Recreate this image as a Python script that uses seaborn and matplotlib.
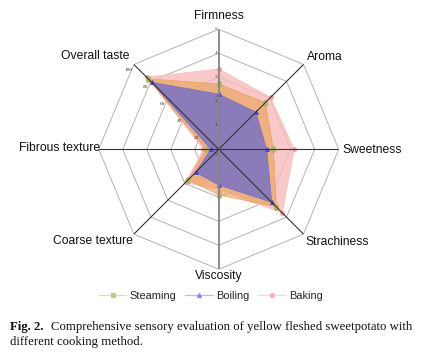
#!/usr/bin/env python3
"""Radar chart: sensory evaluation of yellow fleshed sweetpotato by cooking method."""

import matplotlib.lines as mlines
import matplotlib.pyplot as plt
import numpy as np
import seaborn as sns

CATEGORIES = ["Firmness", "Aroma", "Sweetness", "Strachiness", "Viscosity",
              "Coarse texture", "Fibrous texture", "Overall taste"]

# first seven attributes on a 0-5 scale, overall taste on a 0-100 scale
STEAMING = [2.72, 2.75, 2.28, 3.4, 1.9, 1.8, 0.53, 83]
BOILING = [2.3, 2.19, 2.0, 3.13, 1.49, 1.36, 0.33, 79]
BAKING = [3.35, 3.06, 3.15, 3.75, 1.72, 1.95, 0.64, 85]

SCORE_TICKS = [0, 1, 2, 3, 4, 5]
TASTE_TICKS = [20, 40, 60, 80, 100]
TASTE_SCALE = 20.0  # 100 on overall taste == 5 on the other axes

SERIES = [
    # label, values, fill colour, alpha, marker colour, marker, legend line, legend marker
    ("Baking", BAKING, "#f8bcbc", 0.8, "#f49a9a", "o", "#fad3d3", "#f6b3b3"),
    ("Steaming", STEAMING, "#e8a050", 0.6, "#b8b46a", "s", "#dcdeb8", "#c5c88e"),
    ("Boiling", BOILING, "#736ec8", 0.8, "#4b48d0", "^", "#bdbbec", "#8c8ae0"),
]
LEGEND_ORDER = ["Steaming", "Boiling", "Baking"]


def scaled(values):
    out = list(values[:-1]) + [values[-1] / TASTE_SCALE]
    return out + out[:1]


def main() -> None:
    sns.set_theme(style="white")
    plt.rcParams["font.family"] = ["Liberation Sans", "DejaVu Sans"]

    n = len(CATEGORIES)
    theta = np.linspace(0, 2 * np.pi, n, endpoint=False)
    theta_c = np.append(theta, theta[0])

    fig = plt.figure(figsize=(4.41, 3.57), dpi=100)
    fig.patch.set_facecolor("white")
    ax = fig.add_axes([0.2238, 0.2457, 0.5442, 0.6723], projection="polar")
    ax.set_theta_offset(np.pi / 2)
    ax.set_theta_direction(-1)
    ax.set_ylim(0, 5)
    ax.set_xticks([])
    ax.set_yticks([])
    ax.grid(False)
    ax.spines["polar"].set_visible(False)
    ax.set_facecolor("none")

    # octagonal grid
    for r in SCORE_TICKS[1:]:
        ax.plot(theta_c, [r] * (n + 1), color="#a8a8a8", lw=0.6, zorder=1)

    # data
    for label, vals, fill, alpha, mcol, marker, _lc, _lm in SERIES:
        r = scaled(vals)
        ax.fill(theta_c, r, color=fill, alpha=alpha, lw=0, zorder=2)
        sns.lineplot(x=theta_c, y=r, sort=False, estimator=None, ax=ax,
                     color=fill, lw=0.5, marker=marker, markersize=2.8,
                     markerfacecolor=mcol, markeredgecolor=mcol, alpha=0.9,
                     zorder=3, legend=False)

    # spokes
    for i, a in enumerate(theta):
        if i % 4 == 0:
            ax.plot([a, a], [0, 5], color="#858585", lw=1.3, zorder=4)
        else:
            ax.plot([a, a], [0, 5], color="#333333", lw=0.8, zorder=4)

    # axis tick labels
    for t in SCORE_TICKS:
        ax.annotate(str(t), xy=(0, t), xytext=(-0.8, -3.5 if t == 0 else 0),
                    textcoords="offset points", ha="right", va="center",
                    fontsize=3.8, family="Liberation Serif", color="#333333",
                    zorder=5)
    for t in TASTE_TICKS:
        ax.annotate(str(t), xy=(theta[-1], t / TASTE_SCALE), xytext=(-3.8, -4.3),
                    textcoords="offset points", ha="center", va="center",
                    fontsize=3.8, family="Liberation Serif", color="#333333",
                    zorder=5)

    # category labels
    label_pos = [
        ((0, 9.5), "center", "center"),
        ((2.2, 5.0), "left", "center"),
        ((2.4, -0.6), "left", "center"),
        ((1.5, -5.5), "left", "center"),
        ((0, -4.5), "center", "center"),
        ((-0.7, -5.0), "right", "center"),
        ((1.0, 0.6), "right", "center"),
        ((-2.9, 5.8), "right", "center"),
    ]
    for a, cat, (off, ha, va) in zip(theta, CATEGORIES, label_pos):
        ax.annotate(cat, xy=(a, 5), xytext=off, textcoords="offset points",
                    ha=ha, va=va, fontsize=8.7, color="#111111",
                    annotation_clip=False)

    # legend
    lookup = {s[0]: s for s in SERIES}
    handles = []
    for name in LEGEND_ORDER:
        _l, _v, _f, _a, _mc, marker, lc, lm = lookup[name]
        handles.append(mlines.Line2D([], [], color=lc, lw=0.9, marker=marker,
                                     markersize=2.8, markerfacecolor=lm,
                                     markeredgecolor=lm, label=name))
    fig.legend(handles=handles, loc="center", bbox_to_anchor=(0.478, 0.171),
               ncol=3, frameon=False, fontsize=7.9, handlelength=2.5,
               handletextpad=0.3, columnspacing=0.8)

    # caption
    serif = ["Liberation Serif", "DejaVu Serif"]
    fig.text(10 / 441, 1 - 326.7 / 357, "Fig. 2.", fontsize=9.2, family=serif,
             fontweight="bold", va="center", ha="left", color="#111111")
    fig.text(50.7 / 441, 1 - 326.7 / 357,
             "Comprehensive sensory evaluation of yellow fleshed sweetpotato with",
             fontsize=9.2, family=serif, va="center", ha="left", color="#111111")
    fig.text(10 / 441, 1 - 342.3 / 357, "different cooking method.",
             fontsize=9.2, family=serif, va="center", ha="left", color="#111111")

    fig.savefig("out.png", dpi=100)
    plt.close(fig)


if __name__ == "__main__":
    main()
